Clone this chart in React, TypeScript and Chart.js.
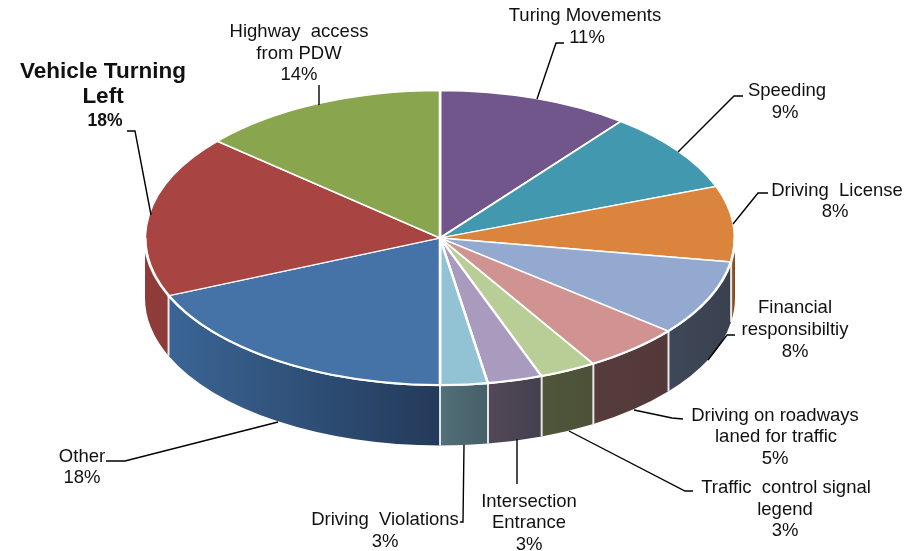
import React, { useEffect, useRef } from "react";
import { Chart, registerables } from "chart.js";

Chart.register(...registerables);

const categories = [
  "Turing Movements", "Speeding", "Driving License", "Financial responsibiltiy",
  "Driving on roadways laned for traffic", "Traffic control signal legend",
  "Intersection Entrance", "Driving Violations", "Other", "Vehicle Turning Left",
  "Highway access from PDW",
];
const values = [10.5, 8.8, 8.3, 8.3, 5.4, 3.1, 3.0, 2.6, 18.6, 17.8, 13.6];
const topColors = ["#71568b", "#4198af", "#db843d", "#93a9cf", "#d19392", "#b9cd96", "#a99bbd", "#91c3d5", "#4572a7", "#a84543", "#89a54e"];
const wallLeft = ["#5a4570", "#34788c", "#a5632e", "#3f4859", "#573c3c", "#4f5639", "#534858", "#517079", "#3a6595", "#8f3b39", "#6e843e"];
const wallRight = ["#5a4570", "#34788c", "#7a4a22", "#39414f", "#523838", "#4c5038", "#43404e", "#465f68", "#243a5a", "#8f3b39", "#6e843e"];

const FONT = "Liberation Sans, Arial, sans-serif";
const SQUASH = 0.5;
const DEPTH = 60;
const RADIUS = 295;

type Txt = { t: string; x: number; y: number; bold?: boolean; size?: number };
const labelTexts: Txt[] = [
  { t: "Turing Movements", x: 585, y: 16 },
  { t: "11%", x: 587, y: 38 },
  { t: "Speeding", x: 787, y: 91 },
  { t: "9%", x: 785, y: 113 },
  { t: "Driving  License", x: 837, y: 191 },
  { t: "8%", x: 835, y: 212 },
  { t: "Financial", x: 795, y: 308 },
  { t: "responsibiltiy", x: 795, y: 330 },
  { t: "8%", x: 795, y: 352 },
  { t: "Driving on roadways", x: 775, y: 416 },
  { t: "laned for traffic", x: 776, y: 437 },
  { t: "5%", x: 775, y: 459 },
  { t: "Traffic  control signal", x: 786, y: 488 },
  { t: "legend", x: 785, y: 510 },
  { t: "3%", x: 785, y: 531 },
  { t: "Intersection", x: 529, y: 502 },
  { t: "Entrance", x: 529, y: 523 },
  { t: "3%", x: 529, y: 545 },
  { t: "Driving  Violations", x: 385, y: 520 },
  { t: "3%", x: 385, y: 542 },
  { t: "Other", x: 82, y: 457 },
  { t: "18%", x: 82, y: 478 },
  { t: "Highway  access", x: 299, y: 32 },
  { t: "from PDW", x: 299, y: 54 },
  { t: "14%", x: 299, y: 75 },
  { t: "Vehicle Turning", x: 103, y: 72, bold: true, size: 22.5 },
  { t: "Left", x: 103, y: 97, bold: true, size: 22.5 },
  { t: "18%", x: 105, y: 121, bold: true, size: 17.5 },
];

const leaders: number[][][] = [
  [[564, 43], [556, 43], [537, 99]],
  [[743, 96], [734, 96], [678, 152]],
  [[768, 193], [758, 193], [733, 224]],
  [[735, 335], [727, 335], [708, 360]],
  [[683, 419], [672, 418], [634, 410]],
  [[693, 491], [685, 491], [569, 431]],
  [[517, 484], [517, 439]],
  [[460, 522], [463, 522], [464, 445]],
  [[106, 461], [125, 461], [278, 422]],
  [[127, 131], [135, 131], [151, 215]],
  [[319, 85], [319, 105]],
];

const pie3d = {
  id: "pie3d",
  beforeDatasetsDraw(chart: any) {
    const ctx = chart.ctx as CanvasRenderingContext2D;
    const arcs = chart.getDatasetMeta(0).data;
    const cx = arcs[0].x;
    const cy = arcs[0].y;
    const ry = RADIUS * SQUASH;
    ctx.save();
    arcs.forEach((arc: any, i: number) => {
      const lo = Math.max(arc.startAngle, 0);
      const hi = Math.min(arc.endAngle, Math.PI);
      if (lo >= hi) return;
      const x0 = cx + RADIUS * Math.cos(hi);
      const x1 = cx + RADIUS * Math.cos(lo);
      const g = ctx.createLinearGradient(x0, 0, x1, 0);
      g.addColorStop(0, wallLeft[i]);
      g.addColorStop(1, wallRight[i]);
      ctx.beginPath();
      ctx.ellipse(cx, cy, RADIUS, ry, 0, lo, hi, false);
      ctx.ellipse(cx, cy + DEPTH, RADIUS, ry, 0, hi, lo, true);
      ctx.closePath();
      ctx.fillStyle = g;
      ctx.fill();
    });
    ctx.strokeStyle = "rgba(255,255,255,0.85)";
    ctx.lineWidth = 2;
    arcs.forEach((arc: any) => {
      const a = arc.startAngle;
      if (a <= 0 || a >= Math.PI) return;
      const x = cx + RADIUS * Math.cos(a);
      const y = cy + ry * Math.sin(a);
      ctx.beginPath();
      ctx.moveTo(x, y);
      ctx.lineTo(x, y + DEPTH);
      ctx.stroke();
    });
    ctx.restore();
    ctx.save();
    ctx.translate(cx, cy);
    ctx.scale(1, SQUASH);
    ctx.translate(-cx, -cy);
  },
  afterDatasetsDraw(chart: any) {
    const ctx = chart.ctx as CanvasRenderingContext2D;
    ctx.restore();
    const arcs = chart.getDatasetMeta(0).data;
    const cx = arcs[0].x;
    const cy = arcs[0].y;
    ctx.save();
    ctx.strokeStyle = "#ffffff";
    ctx.lineWidth = 2;
    ctx.beginPath();
    ctx.ellipse(cx, cy, RADIUS - 0.5, RADIUS * SQUASH - 0.5, 0, 0, Math.PI, false);
    ctx.stroke();
    ctx.strokeStyle = "#000";
    ctx.lineWidth = 1.4;
    leaders.forEach((pts) => {
      ctx.beginPath();
      pts.forEach((p, i) => (i ? ctx.lineTo(p[0], p[1]) : ctx.moveTo(p[0], p[1])));
      ctx.stroke();
    });
    ctx.fillStyle = "#111";
    ctx.textAlign = "center";
    ctx.textBaseline = "middle";
    labelTexts.forEach((l) => {
      ctx.font = `${l.bold ? "bold " : ""}${l.size ?? 18.5}px ${FONT}`;
      ctx.fillText(l.t, l.x, l.y);
    });
    ctx.restore();
  },
};

export default function App() {
  const ref = useRef<HTMLCanvasElement>(null);
  useEffect(() => {
    const chart = new Chart(ref.current!, {
      type: "pie",
      data: {
        labels: categories,
        datasets: [{
          data: values,
          backgroundColor: topColors,
          borderColor: "#ffffff",
          borderWidth: 2.6,
          radius: RADIUS,
        } as any],
      },
      options: {
        responsive: false,
        animation: false,
        layout: { padding: { right: 29, bottom: 75 } },
        plugins: { legend: { display: false }, tooltip: { enabled: false }, title: { display: false } },
      },
      plugins: [pie3d],
    });
    return () => chart.destroy();
  }, []);
  return (
    <canvas
      ref={ref}
      width={909}
      height={551}
      style={{ position: "absolute", left: 0, top: 0, width: 909, height: 551 }}
    />
  );
}
